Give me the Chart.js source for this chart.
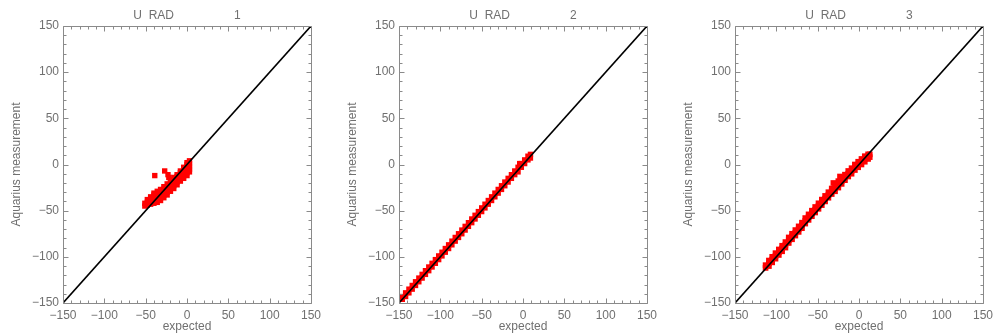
<!DOCTYPE html>
<html>
<head>
<meta charset="utf-8">
<script src="https://cdn.jsdelivr.net/npm/chart.js@4/dist/chart.umd.min.js"></script>
<style>
  html, body { margin: 0; padding: 0; background: #fff; overflow: hidden; }
  .panel { position: absolute; top: 0; width: 331px; height: 336px; }
</style>
</head>
<body>
<div class="panel" style="left:0px"><canvas id="c1" width="331" height="336"></canvas></div>
<div class="panel" style="left:336px"><canvas id="c2" width="331" height="336"></canvas></div>
<div class="panel" style="left:672px"><canvas id="c3" width="331" height="336"></canvas></div>
<script>
// axis range and ticks (same for every panel)
const axisMin = -150;
const axisMax = 150;
const majorStep = 50;
const minorStep = 10;

const titles = ['U  RAD                  1', 'U  RAD                  2', 'U  RAD                  3'];
const xLabel = 'expected';
const yLabel = 'Aquarius measurement';

// 1:1 reference line
const refX = [-150, 150];
const refY = [-150, 150];

const p1x = [-51, -51,
  -48, -48, -48,
  -44, -44, -44, -44,
  -40, -40, -40, -40, -40,
  -36, -36, -36, -36, -36,
  -32, -32, -32, -32, -32,
  -28, -28, -28, -28, -28,
  -24, -24, -24, -24, -24,
  -20, -20, -20, -20, -20,
  -16, -16, -16, -16, -16,
  -12, -12, -12, -12, -12,
  -8, -8, -8, -8, -8,
  -4, -4, -4, -4, -4,
  0, 0, 0, 0, 0, 0,
  3, 3, 3, 3, 3,
  -39, -27, -23, -22];
const p1y = [-45, -42,
  -44, -41, -38,
  -43, -40, -37, -35,
  -42, -39, -36, -33, -31,
  -41, -38, -35, -32, -29,
  -39, -36, -33, -30, -27,
  -36, -33, -30, -27, -24,
  -33, -30, -27, -24, -21,
  -29, -26, -23, -20, -17,
  -26, -23, -20, -17, -14,
  -22, -19, -16, -13, -11,
  -18, -15, -12, -9, -7,
  -15, -12, -9, -6, -3,
  -12, -9, -6, -3, 0, 2,
  -8, -5, -2, 1, 4,
  -12, -7, -11, -14];

// panel 2
const p2x = [-146, -146, -142, -142, -138, -138, -134, -134, -130, -130, -126, -126,
  -122, -122, -118, -118, -114, -114, -110, -110, -106, -106, -102, -102,
  -98, -98, -94, -94, -90, -90, -86, -86, -82, -82, -78, -78,
  -74, -74, -70, -70, -66, -66, -62, -62, -58, -58, -54, -54,
  -50, -50, -46, -46, -42, -42, -38, -38, -34, -34, -30, -30,
  -26, -26, -22, -22, -18, -18, -14, -14, -10, -10, -6, -6,
  -4, -2, -2, 2, 2, 6, 6, 9, 9];
const p2y = [-143, -146, -139, -143, -135, -139, -131, -135, -127, -131, -123, -127,
  -119, -123, -115, -119, -111, -115, -107, -111, -103, -107, -99, -103,
  -95, -99, -91, -95, -87, -91, -83, -87, -79, -83, -75, -79,
  -71, -75, -67, -71, -63, -67, -59, -63, -55, -59, -51, -55,
  -47, -51, -43, -47, -39, -43, -35, -39, -31, -35, -27, -31,
  -23, -27, -19, -23, -15, -19, -11, -15, -7, -11, -3, -8,
  1, 1, -3, 5, 1, 9, 5, 11, 7];

// panel 3
const p3x = [-113, -113,
  -109, -109, -109,
  -105, -105, -105,
  -101, -101, -101,
  -97, -97, -97,
  -93, -93, -93,
  -89, -89, -89,
  -85, -85, -85,
  -81, -81, -81,
  -77, -77, -77,
  -73, -73, -73,
  -69, -69, -69,
  -65, -65, -65,
  -61, -61, -61,
  -57, -57, -57,
  -53, -53, -53,
  -49, -49, -49,
  -45, -45, -45,
  -41, -41, -41,
  -37, -37, -37,
  -33, -33, -33, -31,
  -29, -29, -29,
  -25, -25, -25, -23,
  -21, -21, -21,
  -17, -17, -17,
  -13, -13, -13,
  -9, -9, -9,
  -5, -5, -5,
  -1, -1, -1,
  3, 3, 3,
  7, 7, 7,
  11, 11, 11,
  13, 13];
const p3y = [-112, -109,
  -110, -107, -104,
  -106, -103, -100,
  -102, -99, -96,
  -98, -95, -92,
  -94, -91, -88,
  -90, -87, -84,
  -85, -82, -79,
  -81, -78, -75,
  -77, -74, -71,
  -73, -70, -67,
  -69, -66, -63,
  -64, -61, -58,
  -60, -57, -54,
  -56, -53, -50,
  -52, -49, -46,
  -48, -45, -42,
  -44, -41, -38,
  -40, -37, -34,
  -36, -33, -30,
  -32, -29, -26, -20,
  -29, -26, -23,
  -25, -22, -18, -13,
  -21, -18, -15,
  -17, -14, -11,
  -13, -10, -7,
  -10, -7, -4,
  -6, -3, 0,
  -3, 0, 3,
  0, 3, 6,
  3, 6, 9,
  6, 9, 11,
  8, 11];

const textColor = '#707070';
const axisColor = '#8a8a8a';
const fontFamily = '"Liberation Sans", Arial, Helvetica, sans-serif';

function fmt(v) {
  return v < 0 ? '\u2212' + Math.abs(v) : String(v);
}

// IDL style box with ticks pointing inwards on all four sides
const boxTicks = {
  id: 'boxTicks',
  afterDatasetsDraw(chart) {
    const { ctx, chartArea: a, scales: { x, y } } = chart;
    const l = Math.round(a.left) + 0.5, r = Math.round(a.right) + 0.5;
    const t = Math.round(a.top) + 0.5, b = Math.round(a.bottom) + 0.5;
    ctx.save();
    ctx.strokeStyle = axisColor;
    ctx.lineWidth = 1;
    ctx.beginPath();
    ctx.rect(l, t, r - l, b - t);
    for (let v = axisMin; v <= axisMax; v += minorStep) {
      const len = v % majorStep === 0 ? 5 : 3;
      const px = Math.round(x.getPixelForValue(v)) + 0.5;
      ctx.moveTo(px, b); ctx.lineTo(px, b - len);
      ctx.moveTo(px, t); ctx.lineTo(px, t + len);
      const py = Math.round(y.getPixelForValue(v)) + 0.5;
      ctx.moveTo(l, py); ctx.lineTo(l + len, py);
      ctx.moveTo(r, py); ctx.lineTo(r - len, py);
    }
    ctx.stroke();
    ctx.restore();
  }
};

function makePanel(id, title, xs, ys, size) {
  const pts = xs.map((v, i) => ({ x: v, y: ys[i] }));
  const line = refX.map((v, i) => ({ x: v, y: refY[i] }));
  new Chart(document.getElementById(id), {
    type: 'scatter',
    data: {
      datasets: [{
        type: 'line',
        data: line,
        borderColor: '#000',
        borderWidth: 1.6,
        pointRadius: 0
      }, {
        data: pts,
        pointStyle: 'rect',
        pointRadius: size,
        pointBorderWidth: 0,
        backgroundColor: '#ff0000'
      }]
    },
    options: {
      responsive: false,
      animation: false,
      layout: { padding: { left: 0, right: 20, top: 0, bottom: 0 } },
      plugins: {
        legend: { display: false },
        tooltip: { enabled: false },
        title: {
          display: true,
          text: title,
          fullSize: false,
          color: textColor,
          font: { family: fontFamily, size: 12, weight: 'normal' },
          padding: { top: 8, bottom: 3.6 }
        }
      },
      scales: {
        x: {
          type: 'linear',
          min: axisMin,
          max: axisMax,
          grid: { display: false, drawTicks: false },
          border: { display: false },
          ticks: {
            stepSize: majorStep,
            color: textColor,
            padding: 5,
            maxRotation: 0,
            font: { family: fontFamily, size: 12 },
            callback: fmt
          },
          title: {
            display: true,
            text: xLabel,
            color: textColor,
            font: { family: fontFamily, size: 12 },
            padding: { top: 0, bottom: 2 }
          },
          afterFit(s) { s.height = 33; }
        },
        y: {
          type: 'linear',
          min: axisMin,
          max: axisMax,
          grid: { display: false, drawTicks: false },
          border: { display: false },
          ticks: {
            stepSize: majorStep,
            color: textColor,
            padding: 4,
            font: { family: fontFamily, size: 12 },
            callback: fmt
          },
          title: {
            display: true,
            text: yLabel,
            color: textColor,
            font: { family: fontFamily, size: 12 },
            padding: { top: 9, bottom: 0 }
          },
          afterFit(s) { s.width = 63; }
        }
      }
    },
    plugins: [boxTicks]
  });
}

makePanel('c1', titles[0], p1x, p1y, 3.8);
makePanel('c2', titles[1], p2x, p2y, 3.8);
makePanel('c3', titles[2], p3x, p3y, 4);
</script>
</body>
</html>
